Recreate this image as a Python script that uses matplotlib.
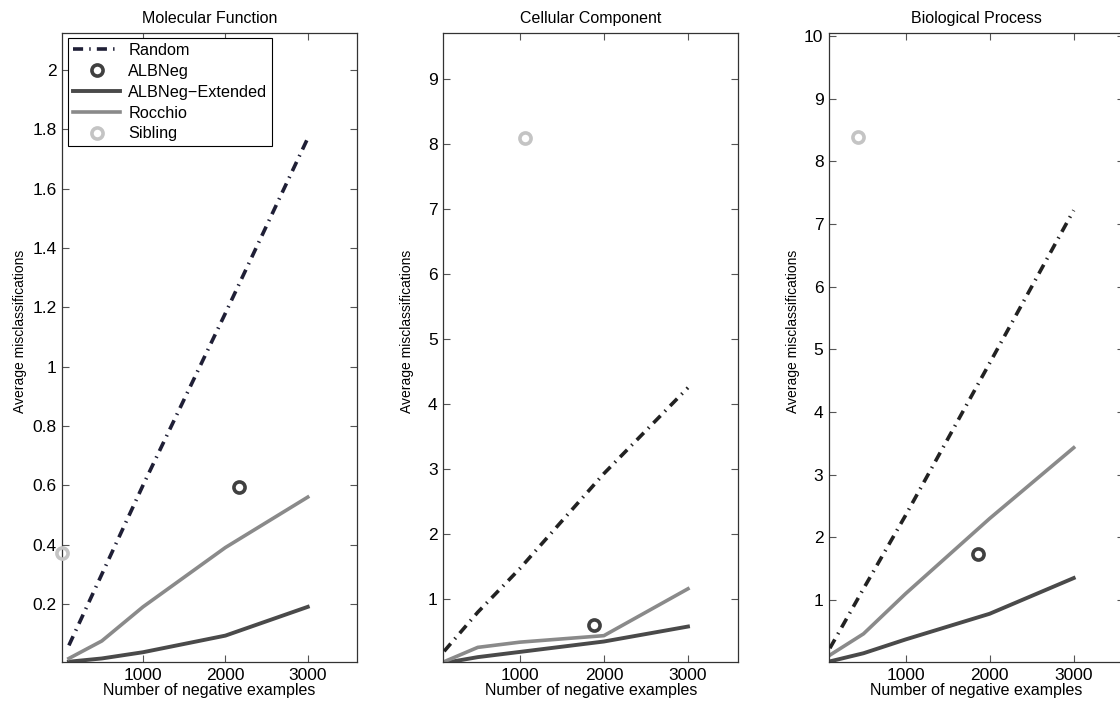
import matplotlib
matplotlib.use("Agg")
import matplotlib.pyplot as plt
from matplotlib.ticker import FuncFormatter

plt.rcParams['font.family'] = ['Liberation Sans', 'DejaVu Sans']
plt.rcParams['font.size'] = 12

# negative example counts used for the curves
n_neg = [100, 500, 1000, 2000, 3000]

titles = ['Molecular Function', 'Cellular Component', 'Biological Process']

# Random baseline
random_mf = [0.06, 0.30, 0.60, 1.18, 1.77]
random_cc = [0.20, 0.80, 1.47, 2.93, 4.25]
random_bp = [0.23, 1.18, 2.35, 4.78, 7.22]

# ALBNeg-Extended
ext_mf = [0.005, 0.016, 0.037, 0.093, 0.19]
ext_cc = [0.02, 0.11, 0.19, 0.35, 0.58]
ext_bp = [0.02, 0.15, 0.37, 0.78, 1.35]

# Rocchio
roc_mf = [0.016, 0.075, 0.19, 0.39, 0.56]
roc_cc = [0.04, 0.26, 0.34, 0.44, 1.16]
roc_bp = [0.12, 0.46, 1.10, 2.30, 3.43]

# single points (x, y)
albneg_x = [2170, 1880, 1860]
albneg_y = [0.595, 0.60, 1.73]
sibling_x = [20, 1060, 440]
sibling_y = [0.37, 8.09, 8.39]

y_ticks = [[0.2, 0.4, 0.6, 0.8, 1.0, 1.2, 1.4, 1.6, 1.8, 2.0],
           list(range(1, 10)),
           list(range(1, 11))]
x_lims = [(17, 3600), (90, 3600), (90, 3600)]
y_lims = [(0.004, 2.125), (0.035, 9.7), (0.01, 10.05)]

randoms = [random_mf, random_cc, random_bp]
exts = [ext_mf, ext_cc, ext_bp]
rocs = [roc_mf, roc_cc, roc_bp]

c_rand = ['#1f1f36', '#222222', '#222222']
c_alb = '#404040'
c_ext = '#4a4a4a'
c_roc = '#8a8a8a'
c_sib = '#c4c4c4'

fig = plt.figure(figsize=(11.2, 7.06), dpi=100)
lefts = [0.0554, 0.3958, 0.7402]
width = 0.2635

fmt = FuncFormatter(lambda v, p: ('%g' % v))

for i in range(3):
    ax = fig.add_axes([lefts[i], 0.0623, width, 0.891])
    ax.plot(n_neg, randoms[i], color=c_rand[i], lw=2.6,
            linestyle=(0, (2.8, 1.7, 0.4, 1.7)), label='Random', zorder=3)
    ax.plot(albneg_x[i], albneg_y[i], 'o', ms=8, mfc='none', mec=c_alb,
            mew=2.6, label='ALBNeg', clip_on=False, zorder=4)
    ax.plot(n_neg, exts[i], color=c_ext, lw=2.8, label='ALBNeg\u2212Extended',
            zorder=2)
    ax.plot(n_neg, rocs[i], color=c_roc, lw=2.6, label='Rocchio', zorder=2)
    ax.plot(sibling_x[i], sibling_y[i], 'o', ms=8, mfc='none', mec=c_sib,
            mew=2.6, label='Sibling', clip_on=False, zorder=4)

    ax.set_xlim(*x_lims[i])
    ax.set_ylim(*y_lims[i])
    ax.set_xticks([1000, 2000, 3000])
    ax.set_yticks(y_ticks[i])
    ax.yaxis.set_major_formatter(fmt)
    ax.tick_params(direction='in', top=True, right=True, length=5,
                   width=0.8, color='#555555', labelsize=12.5, pad=4)
    for s in ax.spines.values():
        s.set_linewidth(0.9)
        s.set_color('#333333')
    ax.set_title(titles[i], fontsize=11.5, pad=7)
    ax.set_xlabel('Number of negative examples', fontsize=11.5, labelpad=0)
    ax.set_ylabel('Average misclassifications', fontsize=10, labelpad=8)
    ax.yaxis.set_label_coords(-0.12 if i == 0 else -0.1, 0.525)

    if i == 0:
        leg = ax.legend(loc='upper left', bbox_to_anchor=(0.01, 0.997),
                        fancybox=False, edgecolor='black', framealpha=1,
                        borderaxespad=0.2, handlelength=2.9,
                        handletextpad=0.5, labelspacing=0.36, borderpad=0.3,
                        fontsize=11.7)
        leg.get_frame().set_linewidth(0.8)

fig.savefig('out.png', dpi=100)
